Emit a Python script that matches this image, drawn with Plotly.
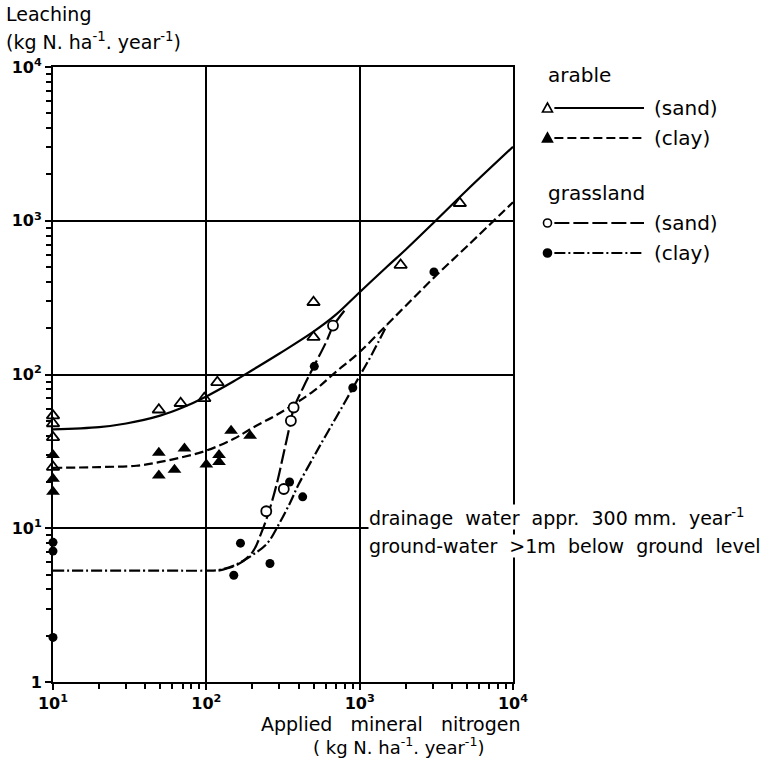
import plotly.graph_objects as go

# ---------------- data ----------------
# measured points
arable_sand_x = [10, 10, 10, 10, 49, 68, 97, 118, 500, 500, 1850, 4500]
arable_sand_y = [54, 48, 39, 25, 59, 65, 70, 89, 295, 175, 515, 1300]

arable_clay_x = [10, 10, 10, 49, 49, 62, 72, 100, 121, 121, 145, 193]
arable_clay_y = [30, 21, 17.3, 31, 22, 24, 33, 26, 30, 27, 43, 40]

grass_sand_x = [246, 320, 356, 371, 670]
grass_sand_y = [12.9, 18, 50, 61, 208]

grass_clay_x = [10, 10, 10, 151, 167, 260, 349, 425, 506, 902, 3050]
grass_clay_y = [8.1, 7.1, 1.95, 4.95, 8.0, 5.9, 20, 16, 113, 82, 465]

# drawn curves
arable_sand_curve_x = [10, 20, 30, 50, 70, 100, 150, 200, 300, 500, 700, 1000, 1500, 2000, 3000, 5000, 10000]
arable_sand_curve_y = [44, 45.5, 48, 54, 61, 72, 90, 107, 137, 190, 245, 343, 500, 650, 960, 1580, 3030]

arable_clay_curve_x = [10, 20, 35, 50, 70, 100, 150, 200, 300, 500, 700, 1000, 1500, 2000, 3000, 5000, 10000]
arable_clay_curve_y = [24.7, 25, 25.5, 27, 29, 32, 38, 45, 56, 78, 104, 140, 210, 280, 420, 680, 1320]

grass_sand_curve_x = [120, 160, 200, 230, 260, 290, 320, 356, 371, 430, 500, 600, 670, 800]
grass_sand_curve_y = [5.3, 5.8, 7.0, 9.5, 13.5, 20, 31, 50, 60, 83, 112, 160, 205, 262]

grass_clay_curve_x = [10, 50, 100, 120, 150, 200, 250, 300, 350, 400, 500, 600, 800, 1000, 1200, 1500]
grass_clay_curve_y = [5.3, 5.3, 5.3, 5.35, 5.7, 6.7, 8.0, 10.8, 14.5, 19.3, 29, 40, 66, 98, 135, 208]

x_tick_vals = [10, 100, 1000, 10000]
x_tick_text = ["10<sup>1</sup>", "10<sup>2</sup>", "10<sup>3</sup>", "10<sup>4</sup>"]
y_tick_vals = [1, 10, 100, 1000, 10000]
y_tick_text = ["1", "10<sup>1</sup>", "10<sup>2</sup>", "10<sup>3</sup>", "10<sup>4</sup>"]

# ---------------- layout helpers ----------------
FONT = "DejaVu Sans"
PX_L, PX_R, PX_T, PX_B = 46, 513, 67, 682
W, H = 770, 761


def px_x(px):
    return (px - PX_L) / (PX_R - PX_L)


def px_y(py):
    return (PX_B - py) / (PX_B - PX_T)


DASH_AC = "9px,4px"
DASH_GS = "15px,4px"
DASH_GC = "11px,3px,2px,3px"
LW = 2.2

fig = go.Figure()

# curves
fig.add_trace(go.Scatter(x=arable_sand_curve_x, y=arable_sand_curve_y, mode="lines",
                         line=dict(color="black", width=LW, shape="spline"), showlegend=False))
fig.add_trace(go.Scatter(x=arable_clay_curve_x, y=arable_clay_curve_y, mode="lines",
                         line=dict(color="black", width=LW, dash=DASH_AC, shape="spline"), showlegend=False))
fig.add_trace(go.Scatter(x=grass_sand_curve_x, y=grass_sand_curve_y, mode="lines",
                         line=dict(color="black", width=LW, dash=DASH_GS, shape="spline"), showlegend=False))
fig.add_trace(go.Scatter(x=grass_clay_curve_x, y=grass_clay_curve_y, mode="lines",
                         line=dict(color="black", width=LW, dash=DASH_GC, shape="spline"), showlegend=False))

# points
fig.add_trace(go.Scatter(x=arable_sand_x, y=arable_sand_y, mode="markers", cliponaxis=False,
                         marker=dict(symbol="triangle-up-open", size=11, color="black", line=dict(width=1.8)),
                         showlegend=False))
fig.add_trace(go.Scatter(x=arable_clay_x, y=arable_clay_y, mode="markers", cliponaxis=False,
                         marker=dict(symbol="triangle-up", size=12, color="black"), showlegend=False))
fig.add_trace(go.Scatter(x=grass_sand_x, y=grass_sand_y, mode="markers", cliponaxis=False,
                         marker=dict(symbol="circle", size=10, color="white", line=dict(width=1.8, color="black")),
                         showlegend=False))
fig.add_trace(go.Scatter(x=grass_clay_x, y=grass_clay_y, mode="markers", cliponaxis=False,
                         marker=dict(symbol="circle", size=9, color="black"), showlegend=False))

minor_x = [m * d for d in (10, 100, 1000) for m in range(2, 10)]
minor_y = [m * d for d in (1, 10, 100, 1000) for m in range(2, 10)]

axis_common = dict(type="log", showline=True, mirror=True, linecolor="black", linewidth=2,
                   showgrid=True, gridcolor="black", gridwidth=1.5, zeroline=False,
                   ticks="outside", ticklen=6, tickwidth=1.5, tickcolor="black",
                   tickfont=dict(family=FONT, size=16, color="black", weight="bold"))

fig.update_xaxes(range=[1, 4], tickmode="array", tickvals=x_tick_vals, ticktext=x_tick_text,
                 minor=dict(tickmode="array", tickvals=minor_x, ticks="outside", ticklen=5,
                            tickwidth=1.5, tickcolor="black", showgrid=False),
                 **axis_common)
fig.update_yaxes(range=[0, 4], tickmode="array", tickvals=y_tick_vals, ticktext=y_tick_text,
                 minor=dict(tickmode="array", tickvals=minor_y, ticks="outside", ticklen=5,
                            tickwidth=1.5, tickcolor="black", showgrid=False),
                 **axis_common)

annotations = []


def text(s, px, py, size=20, xanchor="left", bg=None):
    d = dict(text=s, xref="paper", yref="paper", x=px_x(px), y=px_y(py), xanchor=xanchor,
             yanchor="middle", showarrow=False, font=dict(family=FONT, size=size, color="black"))
    if bg:
        d.update(bgcolor=bg, borderpad=0)
    annotations.append(d)


text("Leaching", -4, 14, size=19)
text("(kg N. ha<sup>-1</sup>. year<sup>-1</sup>)", -4, 41, size=19)
text("Applied   mineral   nitrogen", 389, 724, size=19, xanchor="center")
text("( kg N. ha<sup>-1</sup>. year<sup>-1</sup>)", 397, 746, xanchor="center", size=18)
text("drainage  water  appr.  300 mm.  year<sup>-1</sup>", 366, 517, size=19, bg="white")
text("ground-water  >1m  below  ground  level", 366, 546, size=19, bg="white")

# legend (drawn)
text("arable", 546, 75)
text("grassland", 546, 193)
legend_rows = [
    (108, "(sand)", None, "tri-open"),
    (138, "(clay)", DASH_AC, "tri"),
    (223, "(sand)", DASH_GS, "circ-open"),
    (253, "(clay)", DASH_GC, "circ"),
]
shapes = []
for py, lab, dash, mk in legend_rows:
    text(lab, 654, py)
    ln = dict(color="black", width=LW)
    if dash:
        ln["dash"] = dash
    shapes.append(dict(type="line", xref="paper", yref="paper", x0=px_x(555), x1=px_x(646),
                       y0=px_y(py), y1=px_y(py), line=ln))
    if mk.startswith("tri"):
        shapes.append(dict(type="path", xref="paper", yref="paper", xsizemode="pixel", ysizemode="pixel",
                           xanchor=px_x(548), yanchor=px_y(py),
                           path="M -5 -4 L 5 -4 L 0 5 Z",
                           fillcolor="black" if mk == "tri" else "white",
                           line=dict(color="black", width=1.6)))
    else:
        shapes.append(dict(type="circle", xref="paper", yref="paper", xsizemode="pixel", ysizemode="pixel",
                           xanchor=px_x(548), yanchor=px_y(py), x0=-4, x1=4, y0=-4, y1=4,
                           fillcolor="black" if mk == "circ" else "white",
                           line=dict(color="black", width=1.6)))

fig.update_layout(width=W, height=H, margin=dict(l=PX_L, r=W - PX_R, t=PX_T, b=H - PX_B),
                  paper_bgcolor="white", plot_bgcolor="white", showlegend=False,
                  annotations=annotations, shapes=shapes)

fig.write_html("out.html")
